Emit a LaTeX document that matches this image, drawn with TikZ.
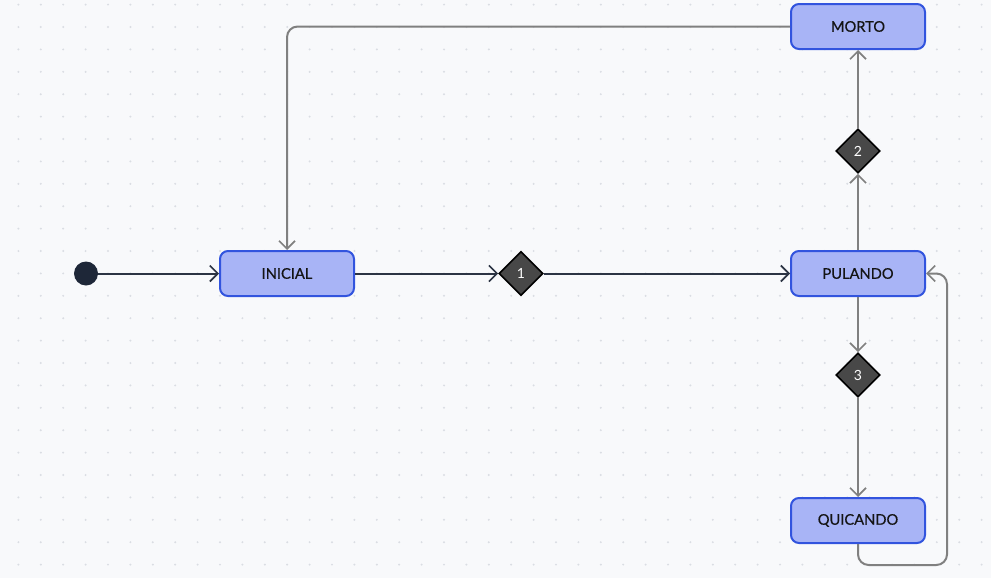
\documentclass[tikz,border=0pt]{standalone}
\usepackage{fontspec}
\setmainfont{Lato}
\newfontfamily\labelfont{Lato}[FakeBold=0.5]
\usetikzlibrary{shapes.geometric,arrows.meta}
\definecolor{bg}{RGB}{248,249,251}
\definecolor{griddot}{RGB}{218,221,227}
\definecolor{statefill}{RGB}{168,180,246}
\definecolor{stateline}{RGB}{50,84,222}
\definecolor{choicefill}{RGB}{72,72,72}
\definecolor{darkline}{RGB}{44,52,68}
\definecolor{greyline}{RGB}{128,128,128}
\definecolor{startfill}{RGB}{30,39,56}
\begin{document}
\begin{tikzpicture}[x=0.75pt,y=-0.75pt,
  state/.style={draw=stateline,fill=statefill,line width=1.5pt,rounded corners=6pt,
    minimum width=134*0.75pt,minimum height=45*0.75pt,inner sep=0pt,
    font=\labelfont\fontsize{11}{13}\selectfont,text=black!92},
  choice/.style={diamond,aspect=1,draw=black,fill=choicefill,line width=1.2pt,
    minimum size=44*0.75pt,inner sep=0pt,text=white,font=\fontsize{10.5}{12}\selectfont},
  initdot/.style={circle,fill=startfill,minimum size=24*0.75pt,inner sep=0pt},
  tip/.style={-{Straight Barb[length=6pt,width=12pt,line width=1.3pt]}},
  mainflow/.style={tip,draw=darkline,line width=1.5pt},
  sideflow/.style={tip,draw=greyline,line width=1.5pt,rounded corners=8pt}]
% canvas and dot grid
\fill[bg] (0,0) rectangle (991,578);
\useasboundingbox (0,0) rectangle (991,578);
\foreach \i in {0,...,43}{
  \foreach \j in {0,...,25}{
    \fill[griddot] (18.4+22.4*\i,4.6+22.4*\j) circle (1.1);
  }
}
% states and choices
\node[initdot] (start) at (86,273.5) {};
\node[state] (inicial) at (287,273.5) {INICIAL};
\node[choice] (d1) at (521,273.5) {1};
\node[state] (pulando) at (858,273.5) {PULANDO};
\node[choice] (d2) at (858,151) {2};
\node[state] (morto) at (858,26.5) {MORTO};
\node[choice] (d3) at (858,375) {3};
\node[state] (quicando) at (858,520.5) {QUICANDO};
\coordinate (loopturn) at (947,565);
% transitions
\draw[mainflow] (start) -- (inicial);
\draw[mainflow] (inicial) -- (d1);
\draw[mainflow] (d1) -- (pulando);
\draw[sideflow] (pulando) -- (d2);
\draw[sideflow] (d2) -- (morto);
\draw[sideflow] (pulando) -- (d3);
\draw[sideflow] (d3) -- (quicando);
\draw[sideflow] (morto.west) -| (inicial.north);
\draw[sideflow] (quicando.south) |- (loopturn) |- (pulando.east);
\end{tikzpicture}
\end{document}
